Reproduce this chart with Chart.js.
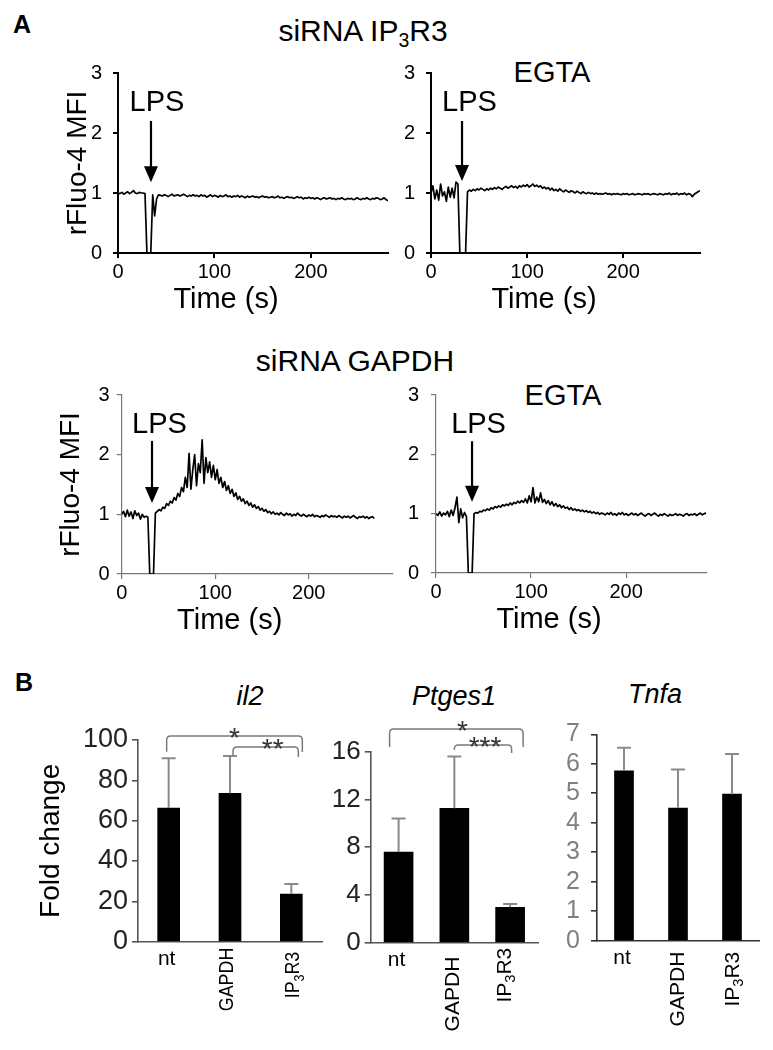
<!DOCTYPE html>
<html><head><meta charset="utf-8">
<script src="https://cdn.jsdelivr.net/npm/chart.js@4.4.1/dist/chart.umd.min.js"></script>
<style>
html,body{margin:0;padding:0;background:#fff;}
body{width:773px;height:1050px;position:relative;overflow:hidden;font-family:"Liberation Sans",Arial,Helvetica,sans-serif;color:#000;}
canvas{position:absolute;}
.t{position:absolute;white-space:nowrap;line-height:1;}
.c{transform:translateX(-50%);}
.sub{font-size:0.65em;position:relative;top:0.3em;line-height:0;}
</style></head><body>
<div class="t" style="left:13px;top:12px;font-size:25px;font-weight:bold;">A</div>
<div class="t c" style="left:363px;top:16px;font-size:30px;">siRNA IP<span class="sub">3</span>R3</div>
<div class="t c" style="left:552px;top:58px;font-size:29px;">EGTA</div>
<div class="t c" style="left:355px;top:346px;font-size:30px;">siRNA GAPDH</div>
<div class="t c" style="left:563px;top:381px;font-size:29px;">EGTA</div>
<div class="t" style="left:15px;top:670px;font-size:25px;font-weight:bold;">B</div>
<div class="t c" style="left:250px;top:683px;font-size:27px;font-style:italic;">il2</div>
<div class="t c" style="left:454px;top:683px;font-size:27px;font-style:italic;">Ptges1</div>
<div class="t c" style="left:655px;top:681px;font-size:27px;font-style:italic;">Tnfa</div>

<canvas id="tl" width="400" height="270" style="left:0px;top:50px;"></canvas>
<canvas id="tr" width="400" height="270" style="left:320px;top:50px;"></canvas>
<canvas id="bl" width="410" height="280" style="left:0px;top:370px;"></canvas>
<canvas id="br" width="400" height="280" style="left:330px;top:370px;"></canvas>
<canvas id="il2" width="310" height="350" style="left:20px;top:700px;"></canvas>
<canvas id="ptges1" width="270" height="350" style="left:280px;top:700px;"></canvas>
<canvas id="tnfa" width="243" height="350" style="left:530px;top:700px;"></canvas>

<script>
// ---------------- DATA ----------------
const TIME = [0,2,4,6,8,10,12,14,16,18,20,22,24,26,28,30,32,34,36,38,40,42,44,46,48,50,52,54,56,58,60,62,64,66,68,70,72,74,76,78,80,82,84,86,88,90,92,94,96,98,100,102,104,106,108,110,112,114,116,118,120,122,124,126,128,130,132,134,136,138,140,142,144,146,148,150,152,154,156,158,160,162,164,166,168,170,172,174,176,178,180,182,184,186,188,190,192,194,196,198,200,202,204,206,208,210,212,214,216,218,220,222,224,226,228,230,232,234,236,238,240,242,244,246,248,250,252,254,256,258,260,262,264,266,268,270,272,274,276,278,280,282,284];

// siRNA IP3R3, no EGTA
const IP3R3_TRACE = [1.00,0.99,1.01,0.98,1.00,1.02,0.99,1.01,1.04,1.00,0.99,1.01,1.00,1.00,0.99,
0.00,0.00,0.00,0.97,0.62,
0.90,0.97,0.96,0.95,0.97,0.96,0.94,0.96,0.98,0.95,0.96,
0.97,0.95,0.96,0.98,0.96,0.94,0.96,0.95,0.97,0.95,
0.96,0.94,0.97,0.95,0.96,0.93,0.95,0.97,0.94,0.96,
0.95,0.93,0.96,0.94,0.95,0.97,0.94,0.95,0.93,0.95,
0.94,0.96,0.93,0.95,0.94,0.92,0.95,0.93,0.94,0.95,
0.93,0.94,0.92,0.94,0.95,0.93,0.94,0.92,0.93,0.94,
0.92,0.93,0.95,0.92,0.93,0.91,0.93,0.94,0.92,0.93,
0.91,0.92,0.94,0.92,0.93,0.90,0.92,0.91,0.93,0.91,
0.92,0.90,0.92,0.91,0.89,0.91,0.92,0.90,0.91,0.92,
0.90,0.91,0.89,0.91,0.90,0.92,0.90,0.89,0.91,0.90,
0.91,0.89,0.90,0.92,0.90,0.89,0.91,0.90,0.92,0.90,
0.89,0.91,0.90,0.92,0.91,0.89,0.90,0.92,0.89,0.87];

// siRNA IP3R3, EGTA
const IP3R3_EGTA_TRACE = [1.00,1.12,0.90,1.05,0.88,1.15,0.95,1.02,0.86,1.10,0.93,1.08,0.92,1.18,1.15,
0.00,0.00,0.00,0.00,
1.02,1.05,1.03,1.06,1.04,1.07,1.05,1.08,1.06,1.04,
1.07,1.05,1.08,1.06,1.09,1.07,1.10,1.08,1.06,1.09,
1.11,1.08,1.10,1.12,1.09,1.11,1.08,1.12,1.10,1.13,
1.11,1.14,1.10,1.12,1.15,1.11,1.13,1.10,1.12,1.08,
1.10,1.07,1.09,1.05,1.08,1.04,1.06,1.03,1.07,1.04,
1.02,1.05,1.03,1.01,1.04,1.02,1.00,1.03,1.01,0.99,
1.02,1.00,0.99,1.01,0.99,1.00,0.98,1.00,0.98,0.99,
0.98,0.99,1.00,0.98,0.99,0.97,0.99,0.98,0.99,0.98,
0.97,0.99,0.98,0.99,0.97,0.98,0.99,0.97,0.98,0.99,
0.98,0.97,0.99,0.98,0.99,0.97,0.98,0.99,0.98,0.97,
0.99,0.98,0.97,0.99,0.98,1.00,0.97,0.99,0.98,1.00,
0.97,0.99,0.98,1.00,0.97,0.99,0.98,0.94,0.98,1.00,
1.02,1.04];

// siRNA GAPDH, no EGTA
const GAPDH_TRACE = [1.00,1.05,0.96,1.07,0.97,1.04,0.93,1.06,0.98,1.02,0.92,1.00,0.95,0.97,0.95,
0.00,0.00,0.00,
1.02,1.05,1.08,1.06,1.12,1.10,1.18,1.15,1.22,1.19,
1.28,1.24,1.35,1.30,1.45,1.38,1.62,1.45,2.02,1.42,
1.75,2.00,1.48,1.85,1.70,2.25,1.52,1.95,1.70,1.88,
1.62,1.82,1.58,1.75,1.52,1.62,1.45,1.55,1.40,1.48,
1.35,1.42,1.30,1.36,1.25,1.30,1.22,1.26,1.18,1.22,
1.15,1.19,1.12,1.16,1.10,1.13,1.07,1.10,1.05,1.08,
1.03,1.05,1.01,1.04,1.00,1.02,0.99,1.03,1.00,0.98,
1.02,0.99,1.01,0.97,1.00,0.98,1.02,0.99,0.97,1.00,
0.98,0.96,0.99,0.97,1.00,0.96,0.98,0.97,0.95,0.98,
0.96,0.99,0.97,0.95,0.98,0.96,0.97,0.95,0.98,0.96,
0.94,0.97,0.95,0.97,0.94,0.96,0.98,0.95,0.93,0.96,
0.95,0.97,0.94,0.96,0.93,0.95,0.96,0.93];

// siRNA GAPDH, EGTA
const GAPDH_EGTA_TRACE = [1.00,0.97,1.03,0.96,1.01,0.98,1.04,0.95,1.06,0.97,1.10,1.28,0.85,1.08,0.93,1.02,0.95,
0.00,0.00,0.00,
1.00,1.02,1.01,1.04,1.03,1.06,1.05,1.08,1.06,1.10,
1.08,1.12,1.10,1.13,1.11,1.15,1.13,1.16,1.14,1.18,
1.15,1.19,1.17,1.21,1.18,1.22,1.19,1.25,1.18,1.30,
1.20,1.44,1.18,1.28,1.20,1.35,1.19,1.24,1.17,1.22,
1.15,1.20,1.13,1.17,1.12,1.15,1.10,1.13,1.09,1.11,
1.07,1.10,1.06,1.08,1.05,1.07,1.04,1.06,1.03,1.05,
1.02,1.04,1.01,1.03,1.00,1.02,0.99,1.01,1.00,0.98,
1.01,0.99,1.02,0.98,1.00,0.97,1.01,0.99,1.02,0.98,
1.00,0.97,0.99,1.01,0.98,1.00,0.97,0.99,1.01,0.98,
0.96,0.99,1.00,0.97,0.99,1.01,0.98,0.96,0.99,0.97,
1.00,0.98,0.96,0.99,0.97,0.98,1.00,0.97,0.99,0.98,
0.96,0.99,1.00,0.97,0.99,0.98,1.00,0.97,0.99,1.01,
0.98,1.00,1.01];

const TIME_TICKS = [0,100,200];
const MFI_TICKS = [0,1,2,3];

const GROUPS = ['nt','GAPDH','IP3R3'];
const IL2_MEAN = [66.3,73.6,23.6];
const IL2_UPPER = [90.9,92.1,28.6];
const IL2_TICKS = [0,20,40,60,80,100];
const PTGES1_MEAN = [7.6,11.26,2.96];
const PTGES1_UPPER = [10.4,15.6,3.24];
const PTGES1_TICKS = [0,4,8,12,16];
const TNFA_MEAN = [5.76,4.5,4.97];
const TNFA_UPPER = [6.54,5.81,6.33];
const TNFA_TICKS = [0,1,2,3,4,5,6,7];

// ---------------- RENDER ----------------
const FONT = '"Liberation Sans", Arial, Helvetica, sans-serif';
Chart.defaults.font.family = FONT;
Chart.defaults.color = '#000';

const traceNotes = {
  id: 'traceNotes',
  afterDraw(chart, args, o) {
    const {ctx, chartArea} = chart;
    const x = chart.scales.x, y = chart.scales.y;
    ctx.save();
    const ax = x.getPixelForValue(o.arrowT);
    const yTop = y.getPixelForValue(o.arrowTop);
    const yTip = y.getPixelForValue(o.arrowTip);
    ctx.strokeStyle = '#000'; ctx.fillStyle = '#000'; ctx.lineWidth = 2.2;
    ctx.beginPath(); ctx.moveTo(ax, yTop); ctx.lineTo(ax, yTip - 12); ctx.stroke();
    ctx.beginPath(); ctx.moveTo(ax - 7, yTip - 16); ctx.lineTo(ax + 7, yTip - 16); ctx.lineTo(ax, yTip); ctx.closePath(); ctx.fill();
    ctx.font = '29px ' + FONT;
    ctx.textAlign = 'center'; ctx.textBaseline = 'alphabetic';
    ctx.fillText('LPS', ax + o.lpsDx, yTop - o.lpsGap);
    ctx.fillText('Time (s)', chartArea.left + o.xTitleDx, chartArea.bottom + o.xTitleDy);
    ctx.restore();
  }
};

function trace(id, values, o) {
  const pts = values.map((v, i) => ({x: TIME[i], y: v}));
  return new Chart(document.getElementById(id), {
    type: 'line',
    data: {datasets: [{data: pts, borderColor: '#000', borderWidth: 1.7, pointRadius: 0, tension: 0, fill: false, borderJoinStyle: 'round'}]},
    options: {
      animation: false, responsive: false, events: [],
      layout: {padding: {left: 0, right: o.padR, top: o.padT, bottom: 0}},
      plugins: {legend: {display: false}, tooltip: {enabled: false}, traceNotes: o.notes},
      scales: {
        x: {
          type: 'linear', min: 0, max: o.xMax,
          afterBuildTicks: s => { s.ticks = TIME_TICKS.map(v => ({value: v})); },
          afterFit: s => { s.height = o.xH; },
          grid: {drawOnChartArea: false, drawTicks: true, tickLength: 5, color: o.axisColor, lineWidth: o.axisW},
          border: {display: true, color: o.axisColor, width: o.axisW},
          ticks: {color: '#000', font: {size: 20}, padding: 2, maxRotation: 0, autoSkip: false}
        },
        y: {
          min: 0, max: 3,
          afterBuildTicks: s => { s.ticks = MFI_TICKS.map(v => ({value: v})); },
          afterFit: s => { s.width = o.yW; },
          grid: {drawOnChartArea: false, drawTicks: true, tickLength: 5, color: o.axisColor, lineWidth: o.axisW},
          border: {display: true, color: o.axisColor, width: o.axisW},
          ticks: {color: '#000', font: {size: 20}, padding: o.yPad, autoSkip: false},
          title: o.yTitlePad != null ? {display: true, text: 'rFluo-4 MFI', color: '#000', font: {size: 28}, padding: {top: o.yTitlePad, bottom: 0}} : {display: false}
        }
      }
    },
    plugins: [traceNotes]
  });
}

trace('tl', IP3R3_TRACE, {padR: 12, padT: 22, xH: 67, yW: 118, xMax: 280, axisColor: '#000', axisW: 2, yPad: 11, yTitlePad: 61,
  notes: {arrowT: 34.2, arrowTop: 2.2, arrowTip: 1.18, lpsDx: 6, lpsGap: 10, xTitleDx: 108, xTitleDy: 55}});
trace('tr', IP3R3_EGTA_TRACE, {padR: 20, padT: 22, xH: 67, yW: 111, xMax: 280, axisColor: '#000', axisW: 2, yPad: 11, yTitlePad: null,
  notes: {arrowT: 32.3, arrowTop: 2.2, arrowTip: 1.2, lpsDx: 7.5, lpsGap: 10, xTitleDx: 113, xTitleDy: 55}});
trace('bl', GAPDH_TRACE, {padR: 17, padT: 25, xH: 76, yW: 121.7, xMax: 290, axisColor: '#777', axisW: 1.2, yPad: 7, yTitlePad: 54,
  notes: {arrowT: 32.4, arrowTop: 2.23, arrowTip: 1.19, lpsDx: 7.5, lpsGap: 8, xTitleDx: 108, xTitleDy: 55}});
trace('br', GAPDH_EGTA_TRACE, {padR: 23, padT: 25, xH: 77, yW: 106, xMax: 285, axisColor: '#777', axisW: 1.2, yPad: 12, yTitlePad: null,
  notes: {arrowT: 37.9, arrowTop: 2.22, arrowTip: 1.2, lpsDx: 6.5, lpsGap: 8, xTitleDx: 113, xTitleDy: 55}});

// ---------- bar charts ----------
function bracketPath(ctx, x1, x2, yl, y1, y2, r) {
  ctx.beginPath();
  ctx.moveTo(x1, y1);
  ctx.lineTo(x1, yl + r);
  ctx.quadraticCurveTo(x1, yl, x1 + r, yl);
  ctx.lineTo(x2 - r, yl);
  ctx.quadraticCurveTo(x2, yl, x2, yl + r);
  ctx.lineTo(x2, y2);
  ctx.stroke();
}

function labelSegments(lab) {
  const m = /^IP(\d)R(\d)$/.exec(lab);
  if (m) return [{t: 'IP'}, {t: m[1], sub: true}, {t: 'R' + m[2]}];
  return [{t: lab}];
}

const barNotes = {
  id: 'barNotes',
  afterDraw(chart, args, o) {
    const {ctx, chartArea} = chart;
    const x = chart.scales.x, y = chart.scales.y;
    const meta = chart.getDatasetMeta(0);
    ctx.save();
    // error bars
    ctx.strokeStyle = '#8a8a8a'; ctx.lineWidth = 2;
    o.upper.forEach((v, i) => {
      const el = meta.data[i];
      const ey = y.getPixelForValue(v);
      ctx.beginPath();
      ctx.moveTo(el.x, el.y); ctx.lineTo(el.x, ey);
      ctx.moveTo(el.x - 7, ey); ctx.lineTo(el.x + 7, ey);
      ctx.stroke();
    });
    // significance brackets
    (o.brackets || []).forEach(b => {
      const x1 = x.getPixelForValue(b.from) + b.dxL;
      const x2 = x.getPixelForValue(b.to) + b.dxR;
      const yl = y.getPixelForValue(b.level);
      ctx.strokeStyle = '#7a7a7a'; ctx.lineWidth = 1.5;
      bracketPath(ctx, x1, x2, yl, y.getPixelForValue(b.legL), y.getPixelForValue(b.legR), 4);
      ctx.fillStyle = '#333';
      ctx.font = '28px ' + FONT;
      ctx.textAlign = 'center'; ctx.textBaseline = 'alphabetic';
      ctx.fillText(b.text, (x1 + x2) / 2 + b.tdx, yl - 5 + 0.58 * 28);
    });
    // category labels
    ctx.fillStyle = '#000';
    GROUPS.forEach((lab, i) => {
      const bx = x.getPixelForValue(i);
      if (i === 0) {
        ctx.font = o.lblFont + 'px ' + FONT;
        ctx.textAlign = 'center'; ctx.textBaseline = 'alphabetic';
        ctx.fillText(lab, bx - 2, chartArea.bottom + 23);
        return;
      }
      const segs = labelSegments(lab);
      const fs = o.lblFont;
      ctx.save();
      ctx.translate(bx + o.rotDx[i], chartArea.bottom + o.rotTop[i]);
      ctx.rotate(-Math.PI / 2);
      ctx.scale(o.rotScale, 1);
      ctx.textBaseline = 'middle'; ctx.textAlign = 'left';
      let total = 0;
      segs.forEach(s => { ctx.font = (s.sub ? fs * 0.7 : fs) + 'px ' + FONT; s.w = ctx.measureText(s.t).width; total += s.w; });
      let cx = -total;
      segs.forEach(s => {
        ctx.font = (s.sub ? fs * 0.7 : fs) + 'px ' + FONT;
        ctx.fillText(s.t, cx, s.sub ? fs * 0.3 : 0);
        cx += s.w;
      });
      ctx.restore();
    });
    ctx.restore();
  }
};

function bars(id, mean, upper, ticks, o) {
  return new Chart(document.getElementById(id), {
    type: 'bar',
    data: {labels: GROUPS, datasets: [{data: mean, backgroundColor: '#000', borderWidth: 0, barThickness: o.barW}]},
    options: {
      animation: false, responsive: false, events: [],
      layout: {padding: {left: 0, right: o.padR, top: o.padT, bottom: 0}},
      plugins: {legend: {display: false}, tooltip: {enabled: false},
        barNotes: {upper: upper, brackets: o.brackets, lblFont: o.lblFont, rotDx: o.rotDx, rotTop: o.rotTop, rotScale: o.rotScale}},
      scales: {
        x: {
          type: 'category',
          afterFit: s => { s.height = o.xH; },
          grid: {display: false},
          border: {display: true, color: o.axisColor, width: 1.6},
          ticks: {display: false}
        },
        y: {
          min: 0, max: ticks[ticks.length - 1],
          afterBuildTicks: s => { s.ticks = ticks.map(v => ({value: v})); },
          afterFit: s => { s.width = o.yW; },
          grid: {drawOnChartArea: false, drawTicks: true, tickLength: 6, color: o.axisColor, lineWidth: 1.6},
          border: {display: true, color: o.axisColor, width: 1.6},
          ticks: {color: o.tickColor, font: {size: o.tickFont}, padding: o.yPad, autoSkip: false},
          title: o.yTitle ? {display: true, text: o.yTitle, color: '#000', font: {size: 28}, padding: {top: 14, bottom: 0}} : {display: false}
        }
      }
    },
    plugins: [barNotes]
  });
}

bars('il2', IL2_MEAN, IL2_UPPER, IL2_TICKS, {
  padR: 8, padT: 40, xH: 108.3, yW: 118, barW: 22, axisColor: '#555', tickColor: '#222', tickFont: 27, yPad: 4,
  yTitle: 'Fold change', lblFont: 21, rotDx: [0, -2.5, 2], rotTop: [0, 6, 10], rotScale: 0.85,
  brackets: [
    {from: 0, to: 2, dxL: -2, dxR: 11, level: 102, legL: 94.2, legR: 94.0, text: '*', tdx: 0},
    {from: 1, to: 2, dxL: 3, dxR: 7, level: 96.5, legL: 92.1, legR: 91.6, text: '**', tdx: 7}
  ]});
bars('ptges1', PTGES1_MEAN, PTGES1_UPPER, PTGES1_TICKS, {
  padR: 12, padT: 51.7, xH: 107.3, yW: 90.7, barW: 29, axisColor: '#555', tickColor: '#222', tickFont: 26, yPad: 4,
  yTitle: null, lblFont: 21, rotDx: [0, -1, -5], rotTop: [0, 14, 5], rotScale: 1,
  brackets: [
    {from: 0, to: 2, dxL: -9, dxR: 13, level: 17.9, legL: 16.4, legR: 16.4, text: '*', tdx: 6},
    {from: 1, to: 2, dxL: 0, dxR: 1.5, level: 16.56, legL: 16.14, legR: 15.9, text: '***', tdx: 2}
  ]});
bars('tnfa', TNFA_MEAN, TNFA_UPPER, TNFA_TICKS, {
  padR: 14, padT: 34.3, xH: 109.3, yW: 67, barW: 19, axisColor: '#333', tickColor: '#808080', tickFont: 25, yPad: 11,
  yTitle: null, lblFont: 21, rotDx: [0, 0, 1], rotTop: [0, 11, 11], rotScale: 1,
  brackets: []});
</script>
</body></html>
